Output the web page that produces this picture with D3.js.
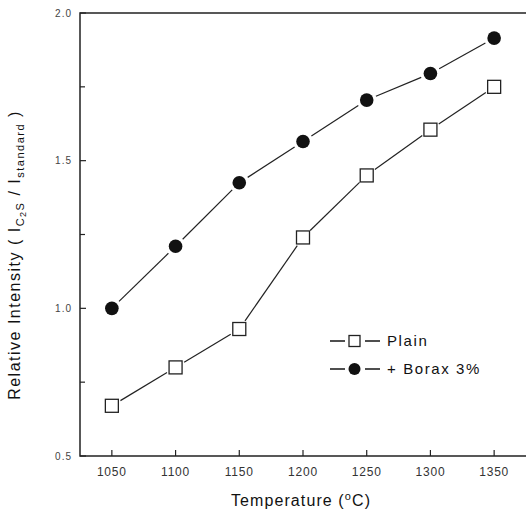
<!DOCTYPE html>
<html>
<head>
  <script src="https://d3js.org/d3.v7.min.js"></script>
  <style>
    body { margin: 0; background: #fff; }
    text { font-family: "Liberation Sans", Arial, sans-serif; fill: #111; }
  </style>
</head>
<body>
  <div id="chart"></div>
  <script>
    // data
    const temps = [1050, 1100, 1150, 1200, 1250, 1300, 1350];
    const plain = [0.67, 0.80, 0.93, 1.24, 1.45, 1.605, 1.75];
    const borax = [1.00, 1.21, 1.425, 1.565, 1.705, 1.795, 1.915];
    const yTicks = [0.5, 1.0, 1.5, 2.0];
    const yMinor = [0.75, 1.25, 1.75];

    const W = 526, H = 516;
    const svg = d3.select("#chart").append("svg")
      .attr("width", W).attr("height", H);

    const x = d3.scaleLinear().domain([1025, 1375]).range([80, 526]);
    const y = d3.scaleLinear().domain([0.5, 2.0]).range([456, 13]);

    // frame (left, bottom, top)
    svg.append("path")
      .attr("d", `M${x(1375)},${y(2)}H${x(1025)}V${y(0.5)}H${x(1375)}`)
      .attr("fill", "none").attr("stroke", "#222").attr("stroke-width", 1.5);

    // y ticks (inward)
    svg.selectAll(".ytick").data(yTicks).enter().append("line")
      .attr("x1", x(1025)).attr("x2", x(1025) + 6)
      .attr("y1", d => y(d)).attr("y2", d => y(d))
      .attr("stroke", "#222").attr("stroke-width", 1.2);
    svg.selectAll(".yminor").data(yMinor).enter().append("line")
      .attr("x1", x(1025)).attr("x2", x(1025) + 5)
      .attr("y1", d => y(d)).attr("y2", d => y(d))
      .attr("stroke", "#222").attr("stroke-width", 1.2);
    svg.selectAll(".ylab").data(yTicks).enter().append("text")
      .attr("x", 72).attr("y", d => y(d) + 3.5)
      .attr("text-anchor", "end").attr("font-size", 10).attr("letter-spacing", 1)
      .style("fill", "#444")
      .text(d => d.toFixed(1));

    // x ticks (inward)
    svg.selectAll(".xtick").data(temps).enter().append("line")
      .attr("x1", d => x(d)).attr("x2", d => x(d))
      .attr("y1", y(0.5)).attr("y2", y(0.5) - 6)
      .attr("stroke", "#222").attr("stroke-width", 1.2);
    svg.selectAll(".xlab").data(temps).enter().append("text")
      .attr("x", d => x(d)).attr("y", 476)
      .attr("text-anchor", "middle").attr("font-size", 12).attr("letter-spacing", 0.8)
      .style("fill", "#333")
      .text(d => d);

    // axis titles
    const xt = svg.append("text").attr("x", 301).attr("y", 506)
      .attr("text-anchor", "middle").attr("font-size", 16).attr("letter-spacing", 1.1);
    xt.append("tspan").text("Temperature (");
    xt.append("tspan").attr("font-size", 11).attr("dy", -6).text("o");
    xt.append("tspan").attr("dy", 6).text("C)");

    const yt = svg.append("text")
      .attr("transform", "translate(20,255) rotate(-90)")
      .attr("text-anchor", "middle").attr("font-size", 16).attr("letter-spacing", 1.5);
    yt.append("tspan").text("Relative Intensity  (  I");
    yt.append("tspan").attr("font-size", 11).attr("dy", 4).text("C");
    yt.append("tspan").attr("font-size", 9).attr("dy", 2).text("2");
    yt.append("tspan").attr("font-size", 11).attr("dy", -2).text("S");
    yt.append("tspan").attr("dy", -4).text("  /  I");
    yt.append("tspan").attr("font-size", 11).attr("dy", 4).text("standard");
    yt.append("tspan").attr("dy", -4).text(" )");

    // connecting segments with small gaps at markers
    function segs(vals) {
      const pts = temps.map((t, i) => [x(t), y(vals[i])]);
      return d3.pairs(pts).map(([a, b]) => {
        const dx = b[0] - a[0], dy = b[1] - a[1], L = Math.hypot(dx, dy), g = 10;
        return [a[0] + dx * g / L, a[1] + dy * g / L, b[0] - dx * g / L, b[1] - dy * g / L];
      });
    }
    [plain, borax].forEach(vals => {
      svg.append("g").selectAll("line").data(segs(vals)).enter().append("line")
        .attr("x1", d => d[0]).attr("y1", d => d[1])
        .attr("x2", d => d[2]).attr("y2", d => d[3])
        .attr("stroke", "#222").attr("stroke-width", 1.2);
    });

    // markers
    svg.append("g").selectAll("rect").data(temps).enter().append("rect")
      .attr("x", d => x(d) - 6.5).attr("y", (d, i) => y(plain[i]) - 6.5)
      .attr("width", 13).attr("height", 13)
      .attr("fill", "#fff").attr("stroke", "#222").attr("stroke-width", 1.3);
    svg.append("g").selectAll("circle").data(temps).enter().append("circle")
      .attr("cx", d => x(d)).attr("cy", (d, i) => y(borax[i]))
      .attr("r", 6.8).attr("fill", "#111");

    // legend
    const leg = svg.append("g");
    [[341, "Plain", "sq"], [369, "+ Borax 3%", "ci"]].forEach(([ly, label, m]) => {
      leg.append("line").attr("x1", 330).attr("x2", 345).attr("y1", ly).attr("y2", ly)
        .attr("stroke", "#222").attr("stroke-width", 1.6);
      leg.append("line").attr("x1", 365).attr("x2", 380).attr("y1", ly).attr("y2", ly)
        .attr("stroke", "#222").attr("stroke-width", 1.6);
      if (m === "sq") {
        leg.append("rect").attr("x", 349).attr("y", ly - 5.5).attr("width", 11).attr("height", 11)
          .attr("fill", "#fff").attr("stroke", "#222").attr("stroke-width", 1.3);
      } else {
        leg.append("circle").attr("cx", 354.5).attr("cy", ly).attr("r", 6).attr("fill", "#111");
      }
      leg.append("text").attr("x", 387).attr("y", ly + 5).attr("font-size", 15)
        .attr("letter-spacing", 1.6).text(label);
    });
  </script>
</body>
</html>
